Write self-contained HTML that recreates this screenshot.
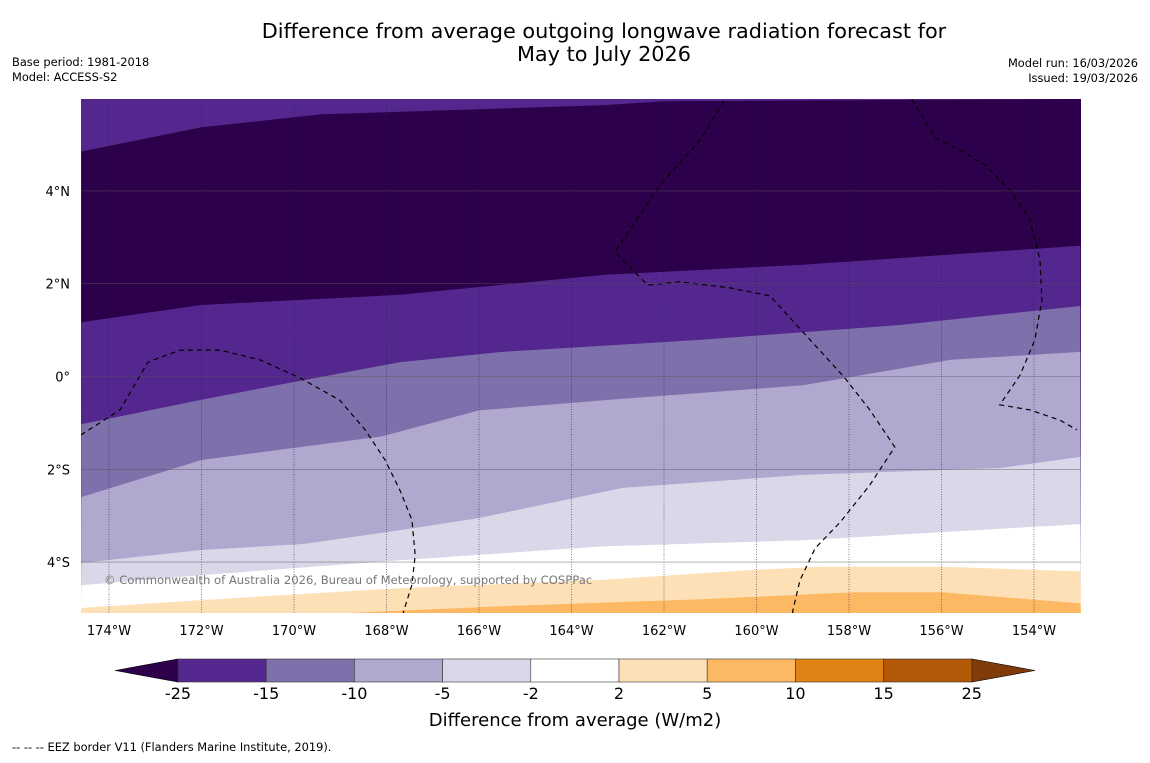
<!DOCTYPE html>
<html><head><meta charset="utf-8"><style>
body{margin:0;background:#fff;font-family:"Liberation Sans","DejaVu Sans",sans-serif;}
svg text{font-family:"DejaVu Sans","Liberation Sans",sans-serif;}
</style></head><body>
<svg id="c" width="1150" height="758" viewBox="0 0 1150 758" xmlns="http://www.w3.org/2000/svg">
<rect width="1150" height="758" fill="#fff"/>
<text x="604" y="38" font-size="20.8" text-anchor="middle">Difference from average outgoing longwave radiation forecast for</text>
<text x="604" y="61" font-size="20.8" text-anchor="middle">May to July 2026</text>
<text x="12" y="66" font-size="11.4">Base period: 1981-2018</text>
<text x="12" y="81" font-size="11.4">Model: ACCESS-S2</text>
<text x="1138" y="67" font-size="11.4" text-anchor="end">Model run: 16/03/2026</text>
<text x="1138" y="82" font-size="11.4" text-anchor="end">Issued: 19/03/2026</text>
<defs><clipPath id="mc"><rect x="81" y="99" width="1000" height="514"/></clipPath></defs>
<g id="map" clip-path="url(#mc)"></g>
<g id="grid"></g>
<g id="axes"></g>
<text x="104" y="584" font-size="11.6" fill="#777">© Commonwealth of Australia 2026, Bureau of Meteorology, supported by COSPPac</text>
<g id="cbar"></g>
<text x="575" y="726" font-size="18" text-anchor="middle">Difference from average (W/m2)</text>
<text x="12" y="751" font-size="11.4">--  --  -- EEZ border V11 (Flanders Marine Institute, 2019).</text>
</svg>
<script>
const bandColors=["#54278f","#2d004b","#54278f","#7e70aa","#b0a8cf","#d9d8e9","#ffffff","#fee0b6","#fdb863"];
const boundary1=[[-174.6,4.85],[-172,5.37],[-169.4,5.65],[-163.3,5.85],[-162,5.93]];
const boundary2=[[-174.6,1.17],[-172,1.54],[-167.7,1.76],[-163.3,2.19],[-159,2.41],[-153,2.82]];
const boundary3=[[-174.6,-1.03],[-172,-0.5],[-169.8,-0.08],[-167.7,0.31],[-165.5,0.53],[-161.2,0.79],[-156.9,1.11],[-153,1.52]];
const boundary4=[[-174.6,-2.6],[-172,-1.8],[-168.1,-1.29],[-166,-0.73],[-163.3,-0.51],[-159,-0.19],[-155.8,0.36],[-153,0.53]];
const boundary5=[[-174.6,-4.02],[-172,-3.74],[-169.8,-3.61],[-167.7,-3.31],[-166,-3.05],[-162.9,-2.4],[-159,-2.12],[-154.7,-1.97],[-153,-1.73]];
const boundary6=[[-174.6,-4.5],[-172,-4.28],[-167.7,-3.96],[-163.3,-3.66],[-159,-3.53],[-153,-3.18]];
const boundary7=[[-174.6,-4.99],[-172,-4.82],[-167.7,-4.56],[-163.3,-4.38],[-160.1,-4.17],[-158.6,-4.1],[-156,-4.1],[-153,-4.2]];
const boundary8=[[-174.6,-5.3],[-169.8,-5.14],[-165.5,-4.95],[-161.2,-4.8],[-157.9,-4.65],[-156,-4.65],[-153,-4.89]];
const boundaries=[boundary1,boundary2,boundary3,boundary4,boundary5,boundary6,boundary7,boundary8];
const eez1=[[-174.61,-1.26],[-173.76,-0.72],[-173.16,0.31],[-172.46,0.57],[-171.6,0.57],[-170.74,0.36],[-169.87,-0.03],[-169.01,-0.51],[-168.46,-1.15],[-168.03,-1.8],[-167.71,-2.45],[-167.45,-3.09],[-167.38,-3.85],[-167.45,-4.49],[-167.62,-5.03],[-167.7,-5.3]];
const eez2=[[-159.25,-5.3],[-159.21,-5.03],[-159.06,-4.39],[-158.73,-3.7],[-158.19,-3.14],[-157.55,-2.34],[-157.01,-1.52],[-157.55,-0.72],[-158.09,-0.03],[-158.84,0.79],[-159.71,1.74],[-160.57,1.91],[-161.65,2.04],[-162.35,1.97],[-163.06,2.68],[-162.09,4.12],[-161.22,5.09],[-160.68,5.97]];
const eez3=[[-156.64,5.98],[-156.14,5.14],[-155.6,4.88],[-155.06,4.56],[-154.52,4.02],[-154.09,3.38],[-153.87,2.51],[-153.83,1.65],[-153.98,0.79],[-154.3,0.03],[-154.74,-0.61],[-154.09,-0.72],[-153.44,-0.94],[-153.07,-1.15]];
const lonTicks=[-174,-172,-170,-168,-166,-164,-162,-160,-158,-156,-154];
const latTicks=[4,2,0,-2,-4];
const cbarLevels=["-25","-15","-10","-5","-2","2","5","10","15","25"];
const cbarColors=["#54278f","#7e70aa","#b0a8cf","#d9d8e9","#ffffff","#fee0b6","#fdb863","#e08214","#b35806"];
const NS="http://www.w3.org/2000/svg";
const X=lon=>109+(lon+174)*46.25;
const Y=lat=>376.5-lat*46.4;
function mk(t,a,p){const e=document.createElementNS(NS,t);for(const k in a)e.setAttribute(k,a[k]);p.appendChild(e);return e;}
const map=document.getElementById('map');
const bg=mk('rect',{x:81,y:99,width:1000,height:514,fill:bandColors[0]},map);


boundaries.forEach((b,i)=>{
  let pts=b.map(p=>X(p[0]).toFixed(1)+','+Y(p[1]).toFixed(1));
  if(i===0)pts.push('1081,99');
  pts.push('1081,613','81,613');
  const pg=mk('polygon',{points:pts.join(' '),fill:bandColors[i+1]},map);
  
  
});
[eez1,eez2,eez3].forEach((e,i)=>{
  const pl=mk('polyline',{points:e.map(p=>X(p[0]).toFixed(1)+','+Y(p[1]).toFixed(1)).join(' '),fill:'none',stroke:'#000','stroke-width':1.2,'stroke-dasharray':'5,4'},map);
  
  
});
const grid=document.getElementById('grid'),axes=document.getElementById('axes');
lonTicks.forEach(l=>{
  const ln=mk('line',{x1:X(l),x2:X(l),y1:99,y2:613,stroke:'#224',"stroke-width":0.7,'stroke-dasharray':'1,1.5',opacity:0.8},grid);
  
  
  const t=mk('text',{x:X(l),y:635,'font-size':13,'text-anchor':'middle'},axes);t.textContent=Math.abs(l)+'°W';
  
  
});
latTicks.forEach(l=>{
  const ln=mk('line',{x1:81,x2:1081,y1:Y(l),y2:Y(l),stroke:'#555',"stroke-width":0.6,opacity:0.7},grid);
  
  
  const t=mk('text',{x:70,y:Y(l)+5,'font-size':13,'text-anchor':'end'},axes);t.textContent=l===0?'0°':Math.abs(l)+'°'+(l>0?'N':'S');
  
  
});
const cb=document.getElementById('cbar');
const cx0=178,cw=88.2,cy=659,ch=23;
const lt=mk('polygon',{points:`115,670.5 ${cx0},${cy} ${cx0},${cy+ch}`,fill:'#2d004b',stroke:'#000','stroke-width':0.6},cb);


const xe=cx0+cw*cbarColors.length;
const rt=mk('polygon',{points:`1035,670.5 ${xe},${cy} ${xe},${cy+ch}`,fill:'#7f3b08',stroke:'#000','stroke-width':0.6},cb);


cbarColors.forEach((c,i)=>{
  const r=mk('rect',{x:cx0+i*cw,y:cy,width:cw,height:ch,fill:c,stroke:'#333','stroke-width':0.6},cb);
  
  
});
cbarLevels.forEach((s,i)=>{
  const t=mk('text',{x:cx0+i*cw,y:699,'font-size':16,'text-anchor':'middle'},cb);t.textContent=s;
  
  
});
</script>
</body></html>
